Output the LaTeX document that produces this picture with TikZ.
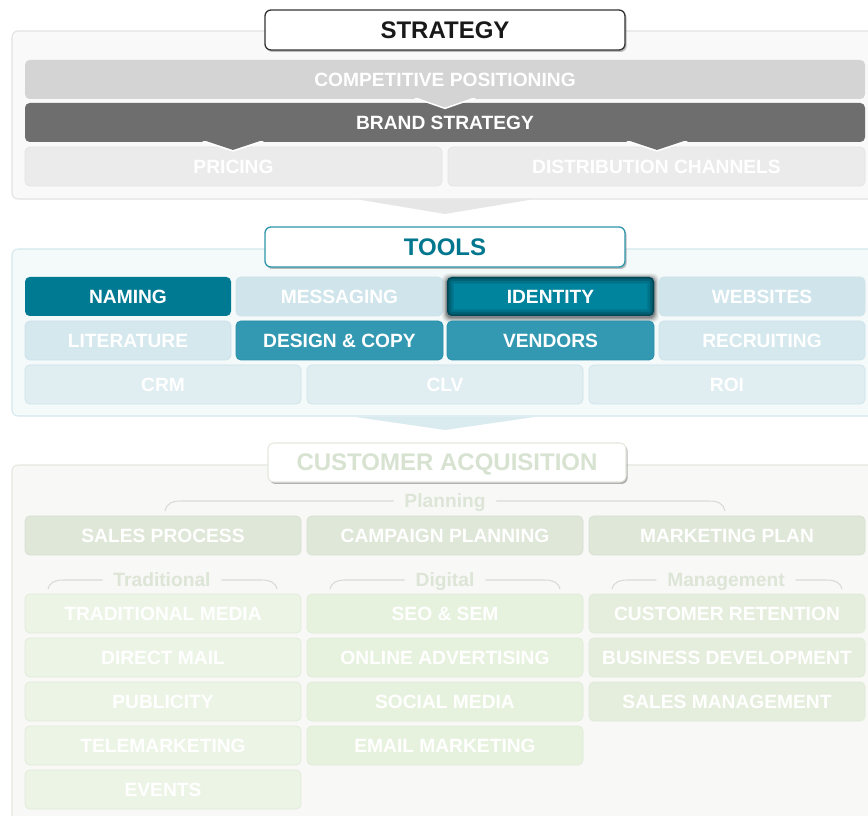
\documentclass[tikz,border=0pt]{standalone}
\usepackage{fontspec}
\setmainfont{Liberation Sans}
\usetikzlibrary{shadows}
\definecolor{panelSf}{HTML}{F9F9F9}
\definecolor{panelSd}{HTML}{E2E2E2}
\definecolor{cpos}{HTML}{D3D4D3}
\definecolor{brand}{HTML}{6D6E6D}
\definecolor{price}{HTML}{EBEBEB}
\definecolor{priced}{HTML}{E4E4E4}
\definecolor{chevS}{HTML}{E6E6E6}
\definecolor{panelTf}{HTML}{F4F9FA}
\definecolor{panelTd}{HTML}{D3E8EE}
\definecolor{tealtxt}{HTML}{00768F}
\definecolor{tealbd}{HTML}{2E96AC}
\definecolor{naming}{HTML}{007A93}
\definecolor{identity}{HTML}{00849E}
\definecolor{design}{HTML}{3399B2}
\definecolor{designd}{HTML}{2A90A8}
\definecolor{msg}{HTML}{D0E5EB}
\definecolor{lit}{HTML}{D4E8EE}
\definecolor{crm}{HTML}{E0EEF2}
\definecolor{lightd}{HTML}{CDE3EA}
\definecolor{chevT}{HTML}{DAEBF0}
\definecolor{panelCf}{HTML}{F8F8F6}
\definecolor{panelCd}{HTML}{E4E7DF}
\definecolor{titleCt}{HTML}{D8E2D1}
\definecolor{titleCd}{HTML}{E3E8DD}
\definecolor{plan}{HTML}{DFE7D8}
\definecolor{pland}{HTML}{D8E1D1}
\definecolor{colA}{HTML}{ECF4E6}
\definecolor{colB}{HTML}{E7F2DE}
\definecolor{colC}{HTML}{E5EEDD}
\definecolor{colAd}{HTML}{E0EBD9}
\definecolor{labtxt}{HTML}{DDE5D7}
\definecolor{brk}{HTML}{D9DBD5}
\newcommand\cellbox[7][]{%
  \node[cell,#1,minimum width={(#5-#3)*0.75pt},minimum height={(#6-#4)*0.75pt}]
    (#2) at ({(#3+#5)/2},{(#4+#6)/2}) {#7};}
\begin{document}
\begin{tikzpicture}[x=0.75pt,y=-0.75pt,
  cell/.style={rounded corners=3.5pt, inner sep=0pt, text depth=0pt,
    font=\bfseries\fontsize{14.4}{14.4}\selectfont, text=white},
  panel/.style={cell, rounded corners=4.5pt, line width=0.8pt},
  titlebox/.style={cell, rounded corners=4.5pt, fill=white, line width=1pt,
    font=\bfseries\fontsize{18}{18}\selectfont,
    drop shadow={shadow xshift=1.2pt, shadow yshift=-1.5pt, opacity=0.25, fill=black}},
  lightT/.style={draw=lightd, line width=0.5pt},
  lightC/.style={draw=colAd, line width=0.5pt},
  grouplab/.style={inner xsep=8pt, inner ysep=0pt, text depth=0pt, text=labtxt,
    font=\bfseries\fontsize{14.4}{14.4}\selectfont},
  bracket/.style={draw=brk, line width=0.8pt},
]
\useasboundingbox (0,0) rectangle (868,816);
\clip (0,0) rectangle (868,816);

% ================= STRATEGY =================
\cellbox[panel, fill=panelSf, draw=panelSd]{spanel}{12}{31}{890}{199}{}
\fill[chevS] (358,199.5) -- (445,214) -- (532,199.5) -- cycle;
\cellbox[fill=price, draw=priced, line width=0.5pt]{pricing}{25}{147}{442}{186}{PRICING}
\cellbox[fill=price, draw=priced, line width=0.5pt]{distrib}{448}{147}{865}{186}{DISTRIBUTION CHANNELS}
\cellbox[fill=brand]{brandstr}{25}{103}{865}{142}{BRAND STRATEGY}
\begin{scope}
  \clip (0,142) rectangle (868,160);
  \foreach \c in {233,657}{
    \draw[white, line width=2.4pt, line join=round] (\c-30,140) -- (\c,150) -- (\c+30,140);
  }
\end{scope}
\foreach \c in {233,657}{
  \fill[brand] (\c-30,140) -- (\c,150) -- (\c+30,140) -- cycle;
}
\cellbox[fill=cpos]{compos}{25}{60}{865}{99}{COMPETITIVE POSITIONING}
\begin{scope}
  \clip (0,99) rectangle (868,115);
  \draw[white, line width=2.4pt, line join=round] (415,97) -- (445,107.5) -- (475,97);
\end{scope}
\fill[cpos] (415,97) -- (445,107.5) -- (475,97) -- cycle;
\cellbox[titlebox, draw=black!80, text=black!90]{strategy}{265}{10}{625}{50}{STRATEGY}

% ================= TOOLS =================
\cellbox[panel, fill=panelTf, draw=panelTd]{tpanel}{12}{249}{890}{416}{}
\fill[chevT] (352,416.5) -- (445,430) -- (538,416.5) -- cycle;
\cellbox[titlebox, draw=tealbd, text=tealtxt]{tools}{265}{227}{625}{267}{TOOLS}
% row 1
\cellbox[fill=naming]{naming}{25}{277}{231}{316}{NAMING}
\cellbox[fill=msg, lightT]{messaging}{236}{277}{443}{316}{MESSAGING}
\foreach \i/\o in {5/0.05,4/0.07,3/0.10,2/0.14,1/0.2}{
  \fill[black, opacity=\o, rounded corners=4.5pt]
    (447-\i,277-\i+1.5) rectangle (654+\i,316+\i+1.5);
}
\cellbox[fill=identity, path picture={
    \draw[black, opacity=0.12, line width=10pt, rounded corners=3.5pt]
      (path picture bounding box.south west) rectangle (path picture bounding box.north east);
    \draw[black, opacity=0.15, line width=6pt, rounded corners=3.5pt]
      (path picture bounding box.south west) rectangle (path picture bounding box.north east);
    \draw[black, opacity=0.25, line width=2.5pt, rounded corners=3.5pt]
      (path picture bounding box.south west) rectangle (path picture bounding box.north east);
  }]{identity}{447}{277}{654}{316}{IDENTITY}
\cellbox[fill=msg, lightT]{websites}{659}{277}{865}{316}{WEBSITES}
% row 2
\cellbox[fill=lit, lightT]{literature}{25}{321}{231}{360}{LITERATURE}
\cellbox[fill=design, draw=designd, line width=0.5pt]{designcopy}{236}{321}{443}{360}{DESIGN \& COPY}
\cellbox[fill=design, draw=designd, line width=0.5pt]{vendors}{447}{321}{654}{360}{VENDORS}
\cellbox[fill=lit, lightT]{recruiting}{659}{321}{865}{360}{RECRUITING}
% row 3
\cellbox[fill=crm, lightT]{crm}{25}{365}{301}{404}{CRM}
\cellbox[fill=crm, lightT]{clv}{307}{365}{583}{404}{CLV}
\cellbox[fill=crm, lightT]{roi}{589}{365}{865}{404}{ROI}

% ================= CUSTOMER ACQUISITION =================
\cellbox[panel, fill=panelCf, draw=panelCd]{cpanel}{12}{465}{890}{840}{}
\cellbox[titlebox, draw=titleCd, line width=0.8pt, text=titleCt,
  drop shadow={shadow xshift=1pt, shadow yshift=-1.2pt, opacity=0.06, fill=black}]{custacq}{268}{443}{626}{482}{CUSTOMER ACQUISITION}

% group labels and brackets
\node[grouplab] (planning) at (445,501) {Planning};
\coordinate (planL) at (165,511);
\coordinate (planR) at (725,511);
\draw[bracket] (planL) .. controls (167,503) and (172,501) .. (182,501) -- (planning.west);
\draw[bracket] (planning.east) -- (708,501) .. controls (718,501) and (723,503) .. (planR);

\foreach \nm/\txt/\cx/\xl/\xr in {trad/Traditional/162/48/277, digi/Digital/445/330/560, mgmt/Management/726/612/842}{
  \node[grouplab] (\nm) at (\cx,580) {\txt};
  \coordinate (\nm L) at (\xl,589);
  \coordinate (\nm R) at (\xr,589);
  \draw[bracket] (\nm L) .. controls (\xl+2,582) and (\xl+7,580) .. (\xl+16,580) -- (\nm.west);
  \draw[bracket] (\nm.east) -- (\xr-16,580) .. controls (\xr-7,580) and (\xr-2,582) .. (\nm R);
}

% planning row
\cellbox[fill=plan, draw=pland, line width=0.5pt]{salesproc}{25}{516}{301}{555}{SALES PROCESS}
\cellbox[fill=plan, draw=pland, line width=0.5pt]{campplan}{307}{516}{583}{555}{CAMPAIGN PLANNING}
\cellbox[fill=plan, draw=pland, line width=0.5pt]{mktplan}{589}{516}{865}{555}{MARKETING PLAN}

% traditional column
\cellbox[fill=colA, lightC]{tradmedia}{25}{594}{301}{633}{TRADITIONAL MEDIA}
\cellbox[fill=colA, lightC]{directmail}{25}{638}{301}{677}{DIRECT MAIL}
\cellbox[fill=colA, lightC]{publicity}{25}{682}{301}{721}{PUBLICITY}
\cellbox[fill=colA, lightC]{telemkt}{25}{726}{301}{765}{TELEMARKETING}
\cellbox[fill=colA, lightC]{events}{25}{770}{301}{809}{EVENTS}
% digital column
\cellbox[fill=colB, lightC]{seosem}{307}{594}{583}{633}{SEO \& SEM}
\cellbox[fill=colB, lightC]{onlineadv}{307}{638}{583}{677}{ONLINE ADVERTISING}
\cellbox[fill=colB, lightC]{social}{307}{682}{583}{721}{SOCIAL MEDIA}
\cellbox[fill=colB, lightC]{email}{307}{726}{583}{765}{EMAIL MARKETING}
% management column
\cellbox[fill=colC, lightC]{custret}{589}{594}{865}{633}{CUSTOMER RETENTION}
\cellbox[fill=colC, lightC]{bizdev}{589}{638}{865}{677}{BUSINESS DEVELOPMENT}
\cellbox[fill=colC, lightC]{salesmgmt}{589}{682}{865}{721}{SALES MANAGEMENT}
\end{tikzpicture}
\end{document}
